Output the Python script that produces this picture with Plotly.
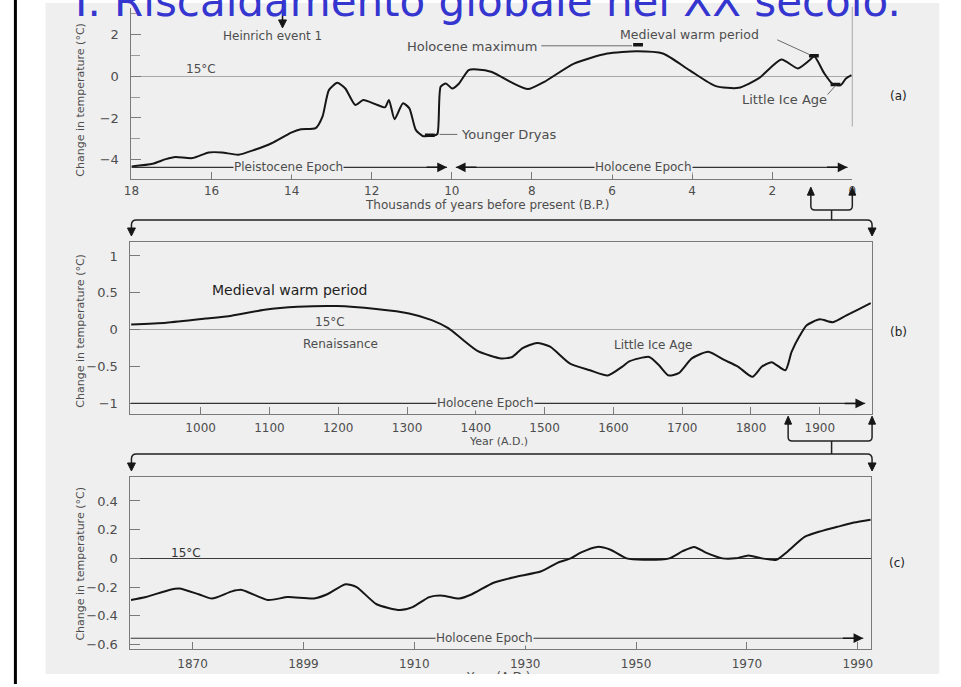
import plotly.graph_objects as go

# ---------------------------------------------------------------------------
# Data: temperature change relative to 15 °C at three time scales
# ---------------------------------------------------------------------------
# (a) last 18,000 years, thousands of years before present
A_KYR = [18.0, 17.47, 17.14, 16.9, 16.48, 16.07, 15.74, 15.33, 14.92, 14.5,
         14.01, 13.77, 13.4, 13.23, 13.07, 12.86, 12.66, 12.41, 12.21, 11.92,
         11.67, 11.57, 11.43, 11.22, 11.06, 10.9, 10.73, 10.45, 10.36, 10.28,
         10.15, 9.99, 9.82, 9.58, 9.37, 9.0, 8.51, 8.1, 7.69, 6.95,
         6.12, 5.38, 4.73, 4.07, 3.41, 2.84, 2.34, 1.77, 1.36, 1.07,
         0.95, 0.7, 0.49, 0.29, 0.16, 0.02]
A_DT = [-4.32, -4.19, -3.97, -3.87, -3.92, -3.65, -3.65, -3.76, -3.52, -3.21,
        -2.7, -2.54, -2.49, -1.94, -0.67, -0.32, -0.59, -1.38, -1.14, -1.33,
        -1.49, -1.14, -2.06, -1.3, -1.54, -2.57, -2.86, -2.84, -2.76, -0.51,
        -0.35, -0.59, -0.35, 0.29, 0.32, 0.2, -0.3, -0.62, -0.27, 0.6,
        1.08, 1.19, 1.08, 0.29, -0.48, -0.56, -0.11, 0.79, 0.37, 0.76,
        0.95, 0.13, -0.38, -0.43, -0.11, 0.05]

# (b) last millennium, year A.D.
B_YEAR = [899, 950, 1007, 1045, 1093, 1141, 1198, 1255, 1303, 1336,
          1360, 1379, 1403, 1437, 1453, 1468, 1489, 1508, 1537, 1566,
          1592, 1613, 1623, 1652, 1666, 1680, 1695, 1714, 1738, 1761,
          1781, 1802, 1816, 1830, 1850, 1859, 1871, 1881, 1900, 1919,
          1938, 1957, 1974]
B_DT = [0.07, 0.095, 0.15, 0.19, 0.27, 0.31, 0.32, 0.28, 0.22, 0.13,
        0.02, -0.12, -0.29, -0.39, -0.37, -0.25, -0.18, -0.23, -0.46, -0.55,
        -0.62, -0.5, -0.43, -0.37, -0.48, -0.62, -0.59, -0.39, -0.3, -0.41,
        -0.5, -0.64, -0.5, -0.44, -0.55, -0.3, -0.08, 0.06, 0.14, 0.10,
        0.19, 0.28, 0.36]

# (c) instrumental period, year A.D.
C_YEAR = [1858.9, 1861.6, 1865.8, 1867.6, 1871.1, 1873.5, 1877.1, 1878.9, 1883.6, 1887.2,
          1891.9, 1894.3, 1897.6, 1899.6, 1903.2, 1907.4, 1909.7, 1912.7, 1915.1, 1918.1,
          1920.4, 1924.3, 1928.2, 1932.9, 1935.9, 1938.2, 1940.0, 1943.0, 1945.4, 1948.3,
          1951.3, 1956.0, 1958.4, 1960.5, 1962.6, 1965.6, 1967.9, 1970.3, 1972.7, 1975.3,
          1977.4, 1980.4, 1983.4, 1986.3, 1989.3, 1992.3]
C_DT = [-0.29, -0.27, -0.22, -0.21, -0.25, -0.28, -0.23, -0.22, -0.29, -0.27,
        -0.28, -0.25, -0.18, -0.20, -0.32, -0.36, -0.34, -0.27, -0.26, -0.28,
        -0.25, -0.17, -0.13, -0.09, -0.03, 0.0, 0.04, 0.08, 0.06, 0.0,
        -0.01, 0.0, 0.05, 0.08, 0.04, 0.0, 0.0, 0.02, 0.0, -0.01,
        0.05, 0.15, 0.19, 0.22, 0.25, 0.27]

# Tick labels
A_TICKS = [18, 16, 14, 12, 10, 8, 6, 4, 2, 0]
B_TICKS = [1000, 1100, 1200, 1300, 1400, 1500, 1600, 1700, 1800, 1900]
C_TICKS = [1870, 1890, 1910, 1930, 1950, 1970, 1990]
C_TICKTEXT = ["1870", "1899", "1910", "1930", "1950", "1970", "1990"]

# Marked events on panel (a): (kyr BP, dT)
EVENT_KYR = [10.55, 5.35, 0.96, 0.42]
EVENT_DT = [-2.83, 1.5, 0.98, -0.4]

TITLE = "I. Riscaldamento globale nel XX secolo."
YTITLE = "Change in temperature (°C)"

# ---------------------------------------------------------------------------
W, H = 961, 687


def fx(px):
    return px / W


def fy(py):
    return 1 - py / H


def path(*segments):
    """Build an SVG path in paper coordinates from pixel-space commands."""
    out = []
    for seg in segments:
        cmd, pts = seg[0], seg[1:]
        coords = " ".join(f"{fx(x):.5f},{fy(y):.5f}" for x, y in pts)
        out.append(f"{cmd}{coords}")
    return " ".join(out)


def tri_down(x, tip):
    return path(("M", (x - 4, tip - 8)), ("L", (x + 4, tip - 8)), ("L", (x, tip))) + " Z"


def tri_up(x, tip):
    return path(("M", (x - 3.5, tip + 8)), ("L", (x + 3.5, tip + 8)), ("L", (x, tip))) + " Z"


BG = "#efefef"
INK = "#161616"
GREY_TXT = "#4d4d4d"
AX_COL = "#7a7a7a"
FONT = "DejaVu Sans"
TICKFONT = dict(family=FONT, size=12, color=GREY_TXT)

fig = go.Figure()

line_style = dict(color=INK, width=2, shape="spline", smoothing=0.6)
fig.add_trace(go.Scatter(x=A_KYR, y=A_DT, mode="lines", line=line_style,
                         xaxis="x", yaxis="y", hoverinfo="skip"))
fig.add_trace(go.Scatter(x=EVENT_KYR, y=EVENT_DT, mode="markers",
                         marker=dict(symbol="line-ew", size=7,
                                     line=dict(color=INK, width=3.5)),
                         xaxis="x", yaxis="y", hoverinfo="skip"))
fig.add_trace(go.Scatter(x=B_YEAR, y=B_DT, mode="lines", line=line_style,
                         xaxis="x2", yaxis="y2", hoverinfo="skip"))
fig.add_trace(go.Scatter(x=C_YEAR, y=C_DT, mode="lines", line=line_style,
                         xaxis="x3", yaxis="y3", hoverinfo="skip"))
# axis caption of panel (c), cut off by the lower edge of the figure panel
fig.add_trace(go.Scatter(x=[497], y=[681], mode="text", text=["Year (A.D.)"],
                         textfont=dict(family=FONT, size=12, color=GREY_TXT),
                         cliponaxis=True, xaxis="x4", yaxis="y4", hoverinfo="skip"))

common_x = dict(ticks="inside", ticklen=7, tickcolor=AX_COL, showline=True,
                linecolor=AX_COL, linewidth=1, showgrid=False, zeroline=False,
                tickfont=TICKFONT)
common_y = dict(ticks="inside", ticklen=10, tickcolor=AX_COL, showline=True,
                linecolor=AX_COL, linewidth=1, showgrid=False,
                tickfont=dict(family=FONT, size=13, color=GREY_TXT),
                ticklabelstandoff=9, zeroline=True, zerolinewidth=1)

fig.update_layout(
    width=W, height=H,
    margin=dict(l=0, r=0, t=0, b=0),
    paper_bgcolor="white", plot_bgcolor="rgba(0,0,0,0)",
    showlegend=False,
    xaxis=dict(domain=[fx(125), fx(855)], range=[18, 0], anchor="y",
               tickvals=A_TICKS, ticklabelstandoff=0, **common_x),
    yaxis=dict(domain=[fy(180), fy(8)], range=[-4.93, 3.26], anchor="x",
               tickvals=[-4, -2, 0, 2], zerolinecolor="#a8a8a8",
               minor=dict(tickvals=[-3, -1, 1, 3], ticks="inside", ticklen=9,
                          tickcolor="#9a9a9a"),
               **common_y),
    xaxis2=dict(domain=[fx(124), fx(875)], range=[898, 1976], anchor="y2",
                tickvals=B_TICKS, mirror=True, ticklabelstandoff=2, **common_x),
    yaxis2=dict(domain=[fy(416), fy(243)], range=[-1.146, 1.19], anchor="x2",
                tickvals=[-1, -0.5, 0, 0.5, 1], mirror=True,
                zerolinecolor="#a8a8a8", **common_y),
    xaxis3=dict(domain=[fx(124), fx(874)], range=[1858.8, 1992.4], anchor="y3",
                tickvals=C_TICKS, ticktext=C_TICKTEXT, mirror=True,
                ticklabelstandoff=3, **common_x),
    yaxis3=dict(domain=[fy(652), fy(479)], range=[-0.633, 0.568], anchor="x3",
                tickvals=[-0.6, -0.4, -0.2, 0, 0.2, 0.4], mirror=True,
                zerolinecolor="#3a3a3a", **common_y),
    xaxis4=dict(domain=[fx(400), fx(600)], range=[400, 600], anchor="y4",
                visible=False),
    yaxis4=dict(domain=[fy(677), fy(600)], range=[677, 600], anchor="x4",
                visible=False),
)

shapes = []
# slide decorations: grey figure panel and the black rule at the left
shapes.append(dict(type="rect", xref="paper", yref="paper", x0=fx(38), x1=fx(943),
                   y0=fy(677), y1=fy(3), fillcolor=BG, line=dict(width=0), layer="below"))
shapes.append(dict(type="line", xref="paper", yref="paper", x0=fx(7.5), x1=fx(7.5),
                   y0=0, y1=1, line=dict(color="black", width=3)))
# right edge of panel (a)
shapes.append(dict(type="line", xref="paper", yref="paper", x0=fx(855), x1=fx(855),
                   y0=fy(127), y1=fy(7), line=dict(color="#b5b5b5", width=1.2)))

# epoch bars
EPOCH_COL = "#333333"
shapes.append(dict(type="line", xref="x", yref="y", x0=18, x1=10.12, y0=-4.36, y1=-4.36,
                   line=dict(color=EPOCH_COL, width=1.2)))
shapes.append(dict(type="line", xref="x", yref="y", x0=9.9, x1=0.12, y0=-4.36, y1=-4.36,
                   line=dict(color=EPOCH_COL, width=1.2)))
shapes.append(dict(type="line", xref="x2", yref="y2", x0=898, x1=1966, y0=-1, y1=-1,
                   line=dict(color=EPOCH_COL, width=1.2)))
shapes.append(dict(type="line", xref="x3", yref="y3", x0=1858.8, x1=1991, y0=-0.557, y1=-0.557,
                   line=dict(color=EPOCH_COL, width=1.2)))

# leader lines for labelled events in panel (a)
LEAD = dict(color="#6a6a6a", width=1)
for (x0, y0, x1, y1) in [(540, 46, 632, 46), (779, 40, 812, 55),
                         (830, 95, 838, 86), (437, 135, 455, 135)]:
    shapes.append(dict(type="line", xref="paper", yref="paper",
                       x0=fx(x0), y0=fy(y0), x1=fx(x1), y1=fy(y1), line=LEAD))

# Heinrich event arrow
shapes.append(dict(type="line", xref="paper", yref="paper", x0=fx(278), x1=fx(278),
                   y0=fy(3), y1=fy(21), line=dict(color=INK, width=1.5)))
shapes.append(dict(type="path", xref="paper", yref="paper", path=tri_down(278, 28),
                   fillcolor=INK, line=dict(color=INK, width=1)))

# zoom connectors between panels
CON = dict(color="#222222", width=1.5)
con_paths = [
    path(("M", (813, 194)), ("L", (813, 207)), ("Q", (813, 211), (817, 211)),
         ("L", (851, 211)), ("Q", (855, 211), (855, 207)), ("L", (855, 194))),
    path(("M", (834, 211)), ("L", (834, 221))),
    path(("M", (125, 230)), ("L", (125, 226)), ("Q", (125, 221), (130, 221)),
         ("L", (870, 221)), ("Q", (875, 221), (875, 226)), ("L", (875, 230))),
    path(("M", (790, 424)), ("L", (790, 439)), ("Q", (790, 443), (794, 443)),
         ("L", (871, 443)), ("Q", (875, 443), (875, 439)), ("L", (875, 424))),
    path(("M", (834, 443)), ("L", (834, 456))),
    path(("M", (125, 466)), ("L", (125, 461)), ("Q", (125, 456), (130, 456)),
         ("L", (870, 456)), ("Q", (875, 456), (875, 461)), ("L", (875, 466))),
]
for p in con_paths:
    shapes.append(dict(type="path", xref="paper", yref="paper", path=p, line=CON))
for p in [tri_down(125, 237), tri_down(875, 237), tri_down(125, 473), tri_down(875, 473),
          tri_up(813, 188), tri_up(855, 188), tri_up(790, 418), tri_up(875, 418)]:
    shapes.append(dict(type="path", xref="paper", yref="paper", path=p,
                       fillcolor=INK, line=dict(color=INK, width=1)))

fig.update_layout(shapes=shapes)

ann = []


def label(text, px, py, size=13, color=GREY_TXT, xanchor="center", bg=None, angle=0):
    d = dict(text=text, x=fx(px), y=fy(py), xref="paper", yref="paper",
             showarrow=False, xanchor=xanchor, yanchor="middle", textangle=angle,
             font=dict(family=FONT, size=size, color=color))
    if bg:
        d["bgcolor"] = bg
        d["borderpad"] = 0
    ann.append(d)


def arrowhead(xref, yref, x, y, dx):
    ann.append(dict(x=x, y=y, xref=xref, yref=yref, text="", showarrow=True,
                    ax=dx, ay=0, arrowhead=2, arrowsize=1.3, arrowwidth=1.5,
                    arrowcolor=INK))


# title of the slide (partly cut by the top edge)
ann.append(dict(text=TITLE, x=fx(486), y=fy(27), xref="paper", yref="paper",
                showarrow=False, xanchor="center", yanchor="bottom", borderpad=0,
                font=dict(family=FONT, size=42, color="#3535cf")))

# panel (a)
label("Heinrich event 1", 268, 36, size=12)
label("Holocene maximum", 470, 47, size=13)
label("Medieval warm period", 690, 35, size=12.5)
label("Little Ice Age", 786, 100, size=13)
label("Younger Dryas", 457, 135, size=13, xanchor="left")
label("15°C", 195, 69, size=12)
label("(a)", 902, 96, size=12, color="#222")
label("Pleistocene Epoch", 284, 168, size=12, bg=BG)
label("Holocene Epoch", 644, 168, size=12, bg=BG)
label("Thousands of years before present (B.P.)", 485, 206, size=12)
label(YTITLE, 73, 100, size=11, angle=-90)
arrowhead("x", "y", 10.12, -4.36, -22)
arrowhead("x", "y", 9.9, -4.36, 22)
arrowhead("x", "y", 0.12, -4.36, -22)

# panel (b)
label("Medieval warm period", 286, 291, size=14, color="#1e1e1e")
label("15°C", 326, 323, size=12)
label("Renaissance", 337, 346, size=12)
label("Little Ice Age", 654, 347, size=12)
label("(b)", 902, 333, size=12, color="#222")
label("Holocene Epoch", 484, 405, size=12, bg=BG)
label("Year (A.D.)", 497, 443, size=11)
label(YTITLE, 73, 332, size=11, angle=-90)
arrowhead("x2", "y2", 1966, -1, -22)

# panel (c)
label("15°C", 180, 555, size=12, color="#333")
label("(c)", 900, 565, size=12, color="#222")
label("Holocene Epoch", 483, 641, size=12, bg=BG)
label(YTITLE, 73, 566, size=11, angle=-90)
arrowhead("x3", "y3", 1991, -0.557, -22)

fig.update_layout(annotations=ann)

fig.write_html("out.html")
